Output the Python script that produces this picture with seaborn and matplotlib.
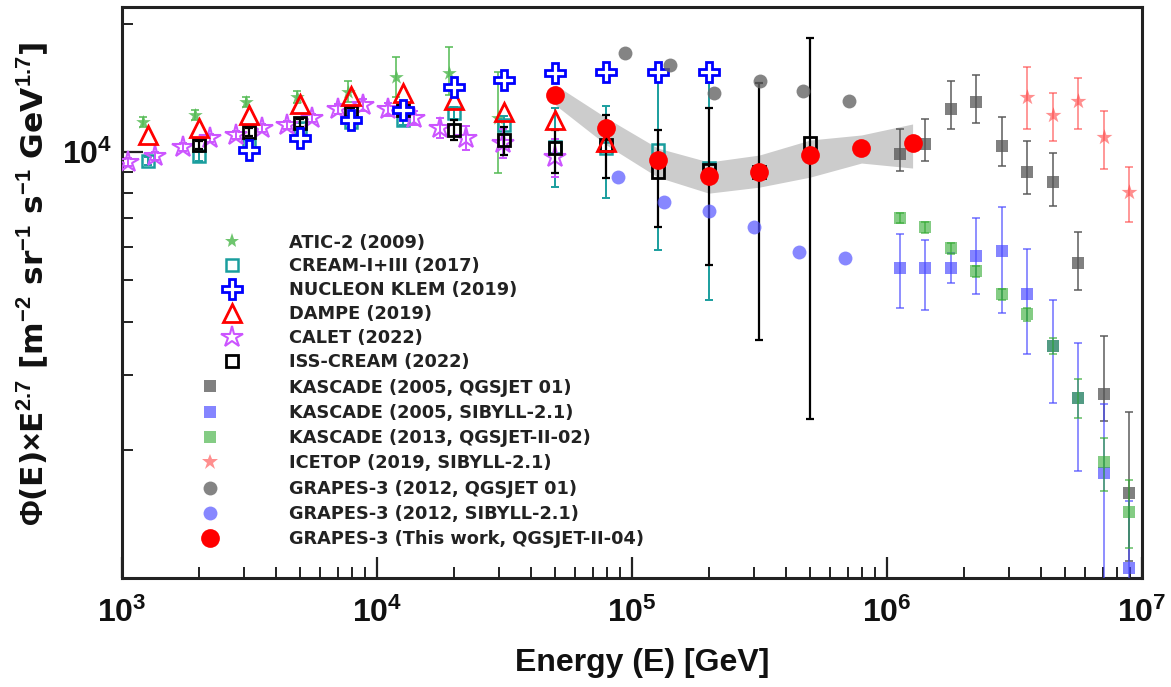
import numpy as np
import pandas as pd
import matplotlib
matplotlib.use("Agg")
import matplotlib.pyplot as plt
import seaborn as sns
from matplotlib.lines import Line2D
from matplotlib.ticker import FixedLocator, NullFormatter, FixedFormatter

# ---------------- data (E in GeV, flux x E^2.7) ----------------
atic_E = [1210, 1930, 3060, 4850, 7680, 11850, 19100, 29700]
atic_F = [11765, 12220, 13108, 13470, 13838, 15015, 15340, 12023]
atic_lo = [11450, 11900, 12750, 13050, 13100, 13470, 13620, 8925]
atic_hi = [12100, 12560, 13500, 13900, 14700, 16700, 17660, 15420]

cream_E = [1260, 2000, 3160, 5000, 7940, 12600, 20000, 31600, 50000, 79400, 126000, 200000]
cream_F = [9524, 9786, 10400, 11387, 11765, 11893, 12350, 11575, 10274, 10219, 10109, 9170]
cream_lo = [9300, 9550, 10150, 11100, 11450, 11550, 11950, 11000, 8271, 7790, 5880, 4487]
cream_hi = [9750, 10020, 10650, 11680, 12080, 12240, 12750, 12150, 12690, 12830, 14770, 14530]

nucleon_E = [3160, 5000, 7940, 12600, 20000, 31600, 50000, 79400, 126000, 200000]
nucleon_F = [10109, 10787, 11893, 12553, 14220, 14766, 15333, 15420, 15420, 15420]

dampe_E = [1260, 2000, 3160, 5000, 7940, 12600, 20000, 31600, 50000, 79400]
dampe_F = [10965, 11388, 12220, 12970, 13545, 13765, 13256, 12420, 11893, 10557]

calet_E = [1058, 1351, 1740, 2220, 2807, 3549, 4446, 5572, 7047, 8831,
           11070, 14000, 17700, 22390, 31260, 50000]
calet_F = [9473, 9786, 10275, 10788, 10965, 11388, 11574, 12023, 12622, 12900,
           12622, 12023, 11388, 10788, 10500, 9732]
calet_rel = [0.02, 0.02, 0.02, 0.02, 0.02, 0.02, 0.02, 0.02, 0.025, 0.03,
             0.035, 0.04, 0.055, 0.065, 0.08, 0.10]

iss_E = [2000, 3160, 5000, 7940, 12600, 20000, 31600, 50000, 79400, 126000,
         200000, 316000, 500000]
iss_F = [10386, 11144, 11700, 12420, 12557, 11266, 10672, 10219, 10386, 8973,
         9071, 8973, 10500]
iss_lo = [10150, 10900, 11450, 12150, 12250, 10672, 9839, 8925, 8685, 6660,
          5420, 3612, 2366]
iss_hi = [10620, 11400, 11950, 12700, 12850, 11893, 11450, 11266, 12220, 11266,
          12690, 14530, 18540]

grapes_E = [50000, 79400, 126000, 200000, 316000, 500000, 794000, 1260000]
grapes_F = [13620, 11388, 9576, 8781, 8973, 9839, 10219, 10500]
band_hi = [14380, 12023, 10219, 9473, 9839, 10672, 10965, 11637]
band_lo = [12900, 10386, 8733, 8006, 8271, 8733, 9421, 9170]

g12q_E = [93500, 141000, 209000, 318000, 469000, 710000]
g12q_F = [17100, 16030, 13770, 14690, 13920, 13180]
g12s_E = [88500, 133000, 201000, 302000, 453000, 685000]
g12s_F = [8733, 7628, 7264, 6660, 5815, 5633]

kas_E = [1.12e6, 1.41e6, 1.78e6, 2.24e6, 2.82e6, 3.55e6, 4.47e6, 5.62e6, 7.08e6, 8.91e6]
kq_F = [9892, 10443, 12624, 13110, 10330, 8973, 8500, 5480, 2710, 1585]
kq_lo = [9022, 9524, 11325, 11700, 9270, 7963, 7465, 4735, 2340, 1096]
kq_hi = [11325, 11956, 14690, 15170, 12090, 10614, 9946, 6480, 3690, 2458]
ks_F = [5333, 5333, 5333, 5693, 5848, 4634, 3498, 2652, 1767, 1056]
ks_lo = [4295, 4250, 4918, 4634, 4180, 3365, 2581, 1786, 500, 500]
ks_hi = [6412, 6207, 5785, 6995, 7425, 5914, 4487, 3554, 2568, 1518]
k13_F = [6995, 6660, 5943, 5248, 4634, 4157, 3498, 2652, 1875, 1430]
k13_lo = [6800, 6470, 5770, 5090, 4490, 4020, 3350, 2378, 1602, 1177]
k13_hi = [7200, 6850, 6120, 5410, 4780, 4300, 3650, 2939, 2134, 1701]

ice_E = [3.55e6, 4.47e6, 5.62e6, 7.08e6, 8.91e6]
ice_F = [13470, 12220, 13180, 10846, 8050]
ice_lo = [11325, 10614, 11325, 9120, 6843]
ice_hi = [15850, 13770, 14930, 12490, 9220]

labels = ["ATIC-2 (2009)", "CREAM-I+III (2017)", "NUCLEON KLEM (2019)", "DAMPE (2019)",
          "CALET (2022)", "ISS-CREAM (2022)", "KASCADE (2005, QGSJET 01)",
          "KASCADE (2005, SIBYLL-2.1)", "KASCADE (2013, QGSJET-II-02)",
          "ICETOP (2019, SIBYLL-2.1)", "GRAPES-3 (2012, QGSJET 01)",
          "GRAPES-3 (2012, SIBYLL-2.1)", "GRAPES-3 (This work, QGSJET-II-04)"]
xtick_vals = [1e3, 1e4, 1e5, 1e6, 1e7]
xtick_labels = ["10$^{3}$", "10$^{4}$", "10$^{5}$", "10$^{6}$", "10$^{7}$"]
ytick_vals = [1e4]
ytick_labels = ["10$^{4}$"]

# ---------------- style ----------------
sns.set_theme(style="white")
plt.rcParams["font.family"] = ["DejaVu Sans"]
plt.rcParams["font.weight"] = "bold"
plt.rcParams["mathtext.fontset"] = "custom"
plt.rcParams["mathtext.rm"] = "Liberation Sans:bold"
plt.rcParams["mathtext.it"] = "Liberation Sans:bold:italic"
plt.rcParams["mathtext.bf"] = "Liberation Sans:bold"
plt.rcParams["mathtext.default"] = "rm"

c_atic = "#55bb55"
c_cream = "#1a9e9e"
c_nuc = "#0000ff"
c_dampe = "#ff0000"
c_calet = "#cc55ff"
c_iss = "#000000"
c_kq = "#555555"
c_ks = "#4444ff"
c_k13 = "#33aa33"
c_ice = "#ff4444"
c_g12q = "#666666"
c_g12s = "#5555ff"
c_red = "#ff0000"

fig = plt.figure(figsize=(11.71, 6.87), dpi=100)
ax = fig.add_axes([122 / 1171, 1 - 578 / 687, 1020 / 1171, 571 / 687])
ax.set_xscale("log")
ax.set_yscale("log")
ax.set_xlim(1e3, 1e7)
ax.set_ylim(1000, 21900)


def errs(F, lo, hi):
    F = np.asarray(F, float)
    return [F - np.asarray(lo, float), np.asarray(hi, float) - F]


def ebars(E, F, lo, hi, color, alpha=1.0, z=3, lw=1.4):
    ax.errorbar(E, F, yerr=errs(F, lo, hi), fmt="none", ecolor=color, elinewidth=lw,
                capsize=3, capthick=lw, alpha=alpha, zorder=z)


def filled(E, F, color, marker, ms, alpha=1.0, z=4):
    sns.scatterplot(x=E, y=F, ax=ax, color=color, marker=marker, s=ms ** 2,
                    linewidth=0, alpha=alpha, zorder=z, legend=False)


# band
ax.fill_between(grapes_E, band_lo, band_hi, color="#cccccc", lw=0, zorder=1)

# ATIC-2
ebars(atic_E, atic_F, atic_lo, atic_hi, c_atic, alpha=0.8, z=2)
filled(atic_E, atic_F, c_atic, "*", 11, alpha=0.85, z=2.5)
# CREAM
ebars(cream_E, cream_F, cream_lo, cream_hi, c_cream, z=2.6)
ax.plot(cream_E, cream_F, ls="none", marker="s", ms=9, mfc="none", mec=c_cream, mew=1.8, zorder=2.7)
# CALET
calet_F_a = np.asarray(calet_F, float)
calet_rel_a = np.asarray(calet_rel)
ebars(calet_E, calet_F, calet_F_a * (1 - calet_rel_a), calet_F_a * (1 + calet_rel_a), c_calet, z=2.8)
ax.plot(calet_E, calet_F, ls="none", marker="*", ms=16, mfc="none", mec=c_calet, mew=1.5, zorder=2.9)
# ISS-CREAM
ebars(iss_E, iss_F, iss_lo, iss_hi, c_iss, z=3.0, lw=1.6)
ax.plot(iss_E, iss_F, ls="none", marker="s", ms=8, mfc="none", mec=c_iss, mew=2.0, zorder=3.1)
# DAMPE
ax.plot(dampe_E, dampe_F, ls="none", marker="^", ms=13, mfc="none", mec=c_dampe, mew=2.0, zorder=3.2)
# NUCLEON
ax.plot(nucleon_E, nucleon_F, ls="none", marker="P", ms=15, mfc="white", mec=c_nuc, mew=2.0, zorder=3.3)

# KASCADE / ICETOP
ebars(kas_E, kq_F, kq_lo, kq_hi, c_kq, alpha=0.75, z=3.4)
filled(kas_E, kq_F, c_kq, "s", 8.5, alpha=0.75, z=3.45)
ebars(kas_E, ks_F, ks_lo, ks_hi, c_ks, alpha=0.6, z=3.5)
filled(kas_E, ks_F, c_ks, "s", 8.5, alpha=0.65, z=3.55)
ebars(kas_E, k13_F, k13_lo, k13_hi, c_k13, alpha=0.6, z=3.6)
filled(kas_E, k13_F, c_k13, "s", 8.5, alpha=0.6, z=3.65)
ebars(ice_E, ice_F, ice_lo, ice_hi, c_ice, alpha=0.55, z=3.7)
filled(ice_E, ice_F, c_ice, "*", 12, alpha=0.6, z=3.75)

# GRAPES-3
filled(g12q_E, g12q_F, c_g12q, "o", 10, alpha=0.8, z=3.8)
filled(g12s_E, g12s_F, c_g12s, "o", 10, alpha=0.7, z=3.8)
filled(grapes_E, grapes_F, c_red, "o", 13.5, alpha=1.0, z=5)

# ---------------- axes cosmetics ----------------
for sp in ax.spines.values():
    sp.set_linewidth(2.2)
    sp.set_color("#222222")

ax.xaxis.set_major_locator(FixedLocator(xtick_vals))
ax.xaxis.set_major_formatter(FixedFormatter(xtick_labels))
xminor = [m * 10.0 ** d for d in range(3, 7) for m in range(2, 10)]
ax.xaxis.set_minor_locator(FixedLocator(xminor))
ax.xaxis.set_minor_formatter(NullFormatter())
ax.yaxis.set_major_locator(FixedLocator(ytick_vals))
ax.yaxis.set_major_formatter(FixedFormatter(ytick_labels))
yminor = [m * 1000.0 for m in range(2, 10)] + [20000.0]
ax.yaxis.set_minor_locator(FixedLocator(yminor))
ax.yaxis.set_minor_formatter(NullFormatter())
ax.tick_params(which="major", direction="in", length=15, width=1.6, color="#222222",
               bottom=True, left=True, top=False, right=False)
ax.tick_params(which="minor", direction="in", length=8, width=1.4, color="#222222",
               bottom=True, left=True, top=False, right=False)
ax.tick_params(axis="x", which="major", pad=14)
ax.tick_params(axis="y", which="major", pad=7)
for lab in ax.get_xticklabels() + ax.get_yticklabels():
    lab.set_fontfamily("Liberation Sans")
    lab.set_fontweight("bold")
    lab.set_fontsize(23)
    lab.set_color("#111111")

ax.set_xlabel("Energy (E) [GeV]", fontfamily="Liberation Sans", fontweight="bold",
              fontsize=23, color="#111111")
ax.xaxis.set_label_coords(0.51, -0.123)
ax.set_ylabel(r"$\Phi$(E)$\times$E$^{2.7}$ [m$^{-2}$ sr$^{-1}$ s$^{-1}$ GeV$^{1.7}$]",
              fontfamily="DejaVu Sans", fontweight="bold", fontsize=22.5, color="#111111")
ax.yaxis.set_label_coords(-0.0706, 0.515)

# ---------------- legend ----------------
handles = [
    Line2D([], [], ls="none", marker="*", ms=11, color=c_atic, alpha=0.85, mew=0),
    Line2D([], [], ls="none", marker="s", ms=9, mfc="none", mec=c_cream, mew=1.8),
    Line2D([], [], ls="none", marker="P", ms=15, mfc="white", mec=c_nuc, mew=2.0),
    Line2D([], [], ls="none", marker="^", ms=13, mfc="none", mec=c_dampe, mew=2.0),
    Line2D([], [], ls="none", marker="*", ms=16, mfc="none", mec=c_calet, mew=1.5),
    Line2D([], [], ls="none", marker="s", ms=8, mfc="none", mec=c_iss, mew=2.0),
    Line2D([], [], ls="none", marker="s", ms=8.5, color=c_kq, alpha=0.75, mew=0),
    Line2D([], [], ls="none", marker="s", ms=8.5, color=c_ks, alpha=0.65, mew=0),
    Line2D([], [], ls="none", marker="s", ms=8.5, color=c_k13, alpha=0.6, mew=0),
    Line2D([], [], ls="none", marker="*", ms=12, color=c_ice, alpha=0.6, mew=0),
    Line2D([], [], ls="none", marker="o", ms=10, color=c_g12q, alpha=0.8, mew=0),
    Line2D([], [], ls="none", marker="o", ms=10, color=c_g12s, alpha=0.7, mew=0),
    Line2D([], [], ls="none", marker="o", ms=13.5, color=c_red, mew=0),
]
leg_prop = {"family": "DejaVu Sans", "weight": "bold", "size": 12.8}
leg1 = ax.legend(handles[:6], labels[:6], loc="upper left",
                 bbox_to_anchor=(223.1 / 1171, 1 - 233.6 / 687), bbox_transform=fig.transFigure,
                 frameon=False, borderpad=0, borderaxespad=0, handlelength=1.0,
                 handletextpad=2.70, labelspacing=0.33, prop=leg_prop, numpoints=1)
for t in leg1.get_texts():
    t.set_color("#222222")
ax.add_artist(leg1)
leg2 = ax.legend(handles[6:], labels[6:], loc="upper left",
                 bbox_to_anchor=(201.1 / 1171, 1 - 378.6 / 687), bbox_transform=fig.transFigure,
                 frameon=False, borderpad=0, borderaxespad=0, handlelength=1.0,
                 handletextpad=3.94, labelspacing=0.41, prop=leg_prop, numpoints=1)
for t in leg2.get_texts():
    t.set_color("#222222")

fig.savefig("out.png", dpi=100)
